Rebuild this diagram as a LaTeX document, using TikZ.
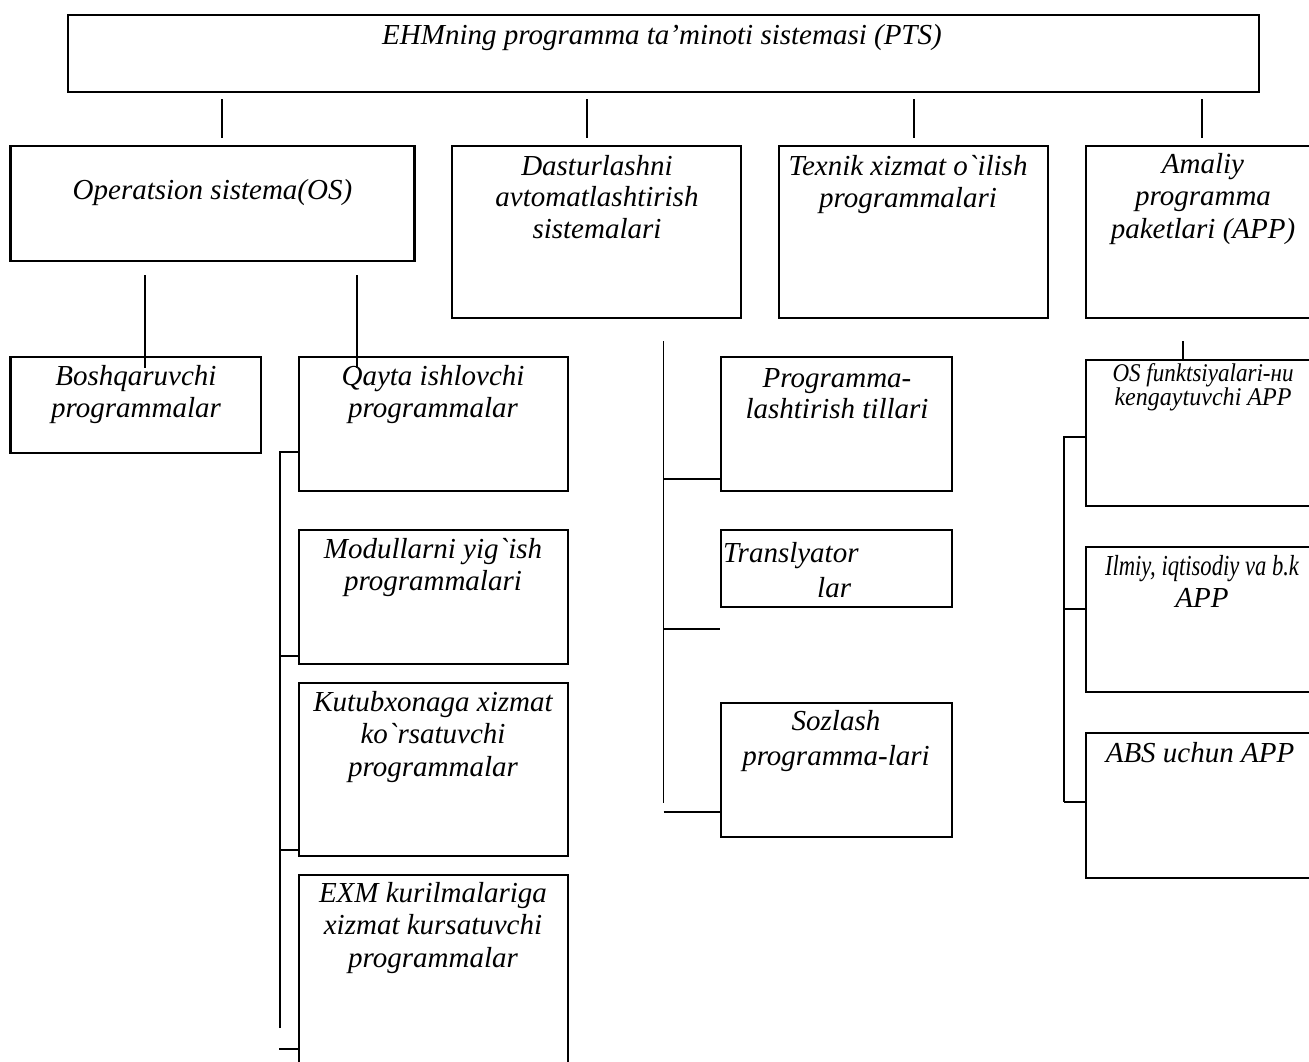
\documentclass[tikz,border=0pt]{standalone}
\usepackage{fontspec}
\setmainfont{Liberation Serif}
\usepackage{graphicx}
\newcommand\lns[1]{\begin{tabular}[t]{@{}c@{}}#1\end{tabular}}
\newcommand\gr{\textasciigrave}
\tikzset{
  box/.style={draw, line width=2.1pt, rectangle, inner sep=0pt},
  lbl/.style={inner sep=0pt, anchor=base, font=\itshape\fontsize{29}{32.8}\selectfont},
  conn/.style={line width=1.5pt}
}
\newcommand\bx[3]{% name, (x1,y1), (x2,y2)
  \path #2 coordinate (#1-nw) #3 coordinate (#1-se);
  \node[box, fit=(#1-nw)(#1-se)] (#1) {};}
\usetikzlibrary{fit,calc}
\begin{document}
\begin{tikzpicture}[x=1pt,y=-1pt]
\useasboundingbox (0,0) rectangle (1309,1061);
\clip (0,0) rectangle (1309,1061);
\fill[white] (0,0) rectangle (1309,1061);
% boxes
\bx{top}{(68,15)}{(1259,92)}
\bx{os}{(10.5,146)}{(414.5,261)}
\bx{dast}{(452,146)}{(741,318)}
\bx{tex}{(779,146)}{(1048,318)}
\bx{am}{(1086,146)}{(1324,318)}
\bx{bosh}{(10.5,357)}{(261,453)}
\bx{qay}{(299,357)}{(568,491)}
\bx{mod}{(299,530)}{(568,664)}
\bx{kut}{(299,683)}{(568,856)}
\bx{exm}{(299,875)}{(568,1080)}
\bx{prog}{(721,357)}{(952,491)}
\bx{tran}{(721,530)}{(952,607)}
\bx{soz}{(721,703)}{(952,837)}
\bx{osf}{(1086,360)}{(1324,506)}
\bx{ilm}{(1086,547)}{(1324,692)}
\bx{abs}{(1086,733)}{(1324,878)}
% texts
\node[lbl] (topT) at (662,44) {EHMning programma ta’minoti sistemasi (PTS)};
\node[lbl] (osT) at (212.5,199) {Operatsion sistema(OS)};
\node[lbl] (dastT) at (597,175) {\lns{Dasturlashni\\[-1pt]avtomatlashtirish\\[-1pt]sistemalari}};
\node[lbl] (texT) at (908,175) {\lns{Texnik xizmat o\gr ilish\\programmalari}};
\node[lbl] (amT) at (1203,173) {\lns{Amaliy\\programma\\paketlari (APP)}};
\node[lbl] (boshT) at (136,385) {\lns{Boshqaruvchi\\programmalar}};
\node[lbl] (qayT) at (433,385) {\lns{Qayta ishlovchi\\programmalar}};
\node[lbl] (modT) at (433,558) {\lns{Modullarni yig\gr ish\\programmalari}};
\node[lbl] (kutT) at (433,711) {\lns{Kutubxonaga xizmat\\ko\gr rsatuvchi\\programmalar}};
\node[lbl] (exmT) at (433,902) {\lns{EXM kurilmalariga\\xizmat kursatuvchi\\programmalar}};
\node[lbl] (progT) at (837,387) {\lns{Programma-\\[-1.8pt]lashtirish tillari}};
\node[lbl, anchor=base west] (tranT) at (723,562) {\begin{tabular}[t]{@{}l@{}}Translyator\\[2.2pt]\hspace{94pt}lar\end{tabular}};
\node[lbl] (sozT) at (836,730) {\lns{Sozlash\\[2.2pt]programma-lari}};
\node[lbl] (osfT) at (1203,381) {\lns{\resizebox{181pt}{0.88\height}{OS funktsiyalari-ни}\\[-8.6pt]\resizebox{177pt}{0.88\height}{kengaytuvchi APP}}};
\node[lbl] (ilmT) at (1202,575) {\lns{\resizebox{194pt}{\height}{Ilmiy, iqtisodiy va b.k}\\APP}};
\node[lbl] (absT) at (1200,762) {ABS uchun APP};
% connectors from top box
\foreach \x/\n in {222/a,587/b,914/c,1202/d}{
  \coordinate (t\n1) at (\x,99); \coordinate (t\n2) at (\x,138);
  \draw[conn] (t\n1) -- (t\n2);
}
% OS to its sub-boxes
\coordinate (o1a) at (145,275); \coordinate (o1b) at (145,368);
\coordinate (o2a) at (357,275); \coordinate (o2b) at (357,368);
\draw[conn] (o1a) -- (o1b);
\draw[conn] (o2a) -- (o2b);
% Qayta bracket
\coordinate (q0) at (280,452); \coordinate (q1) at (280,1028);
\coordinate (q2) at (280,656); \coordinate (q3) at (280,850); \coordinate (q4) at (279,1049);
\draw[conn] (q1) -- (q0) -- (q0 -| qay.west);
\draw[conn] (q2) -- (q2 -| mod.west);
\draw[conn] (q3) -- (q3 -| kut.west);
\draw[conn] (q4) -- (q4 -| exm.west);
% Dasturlash bracket
\coordinate (d0) at (663.5,341); \coordinate (d1) at (663.5,803);
\coordinate (d2) at (663.5,479); \coordinate (d3) at (663.5,629); \coordinate (d4) at (663.5,812);
\draw[conn] (d0) -- (d1);
\draw[conn] (d2) -- (d2 -| prog.west);
\draw[conn] (d3) -- (d3 -| tran.west);
\draw[conn] (d4) -- (d4 -| soz.west);
% Amaliy
\coordinate (a0) at (1183,341);
\draw[conn] (a0) -- (a0 |- osf.north);
\coordinate (b0) at (1064,437); \coordinate (b1) at (1064,802); \coordinate (b2) at (1064,609);
\draw[conn] (b1) -- (b0) -- (b0 -| osf.west);
\draw[conn] (b2) -- (b2 -| ilm.west);
\draw[conn] (b1) -- (b1 -| abs.west);
\end{tikzpicture}
\end{document}
